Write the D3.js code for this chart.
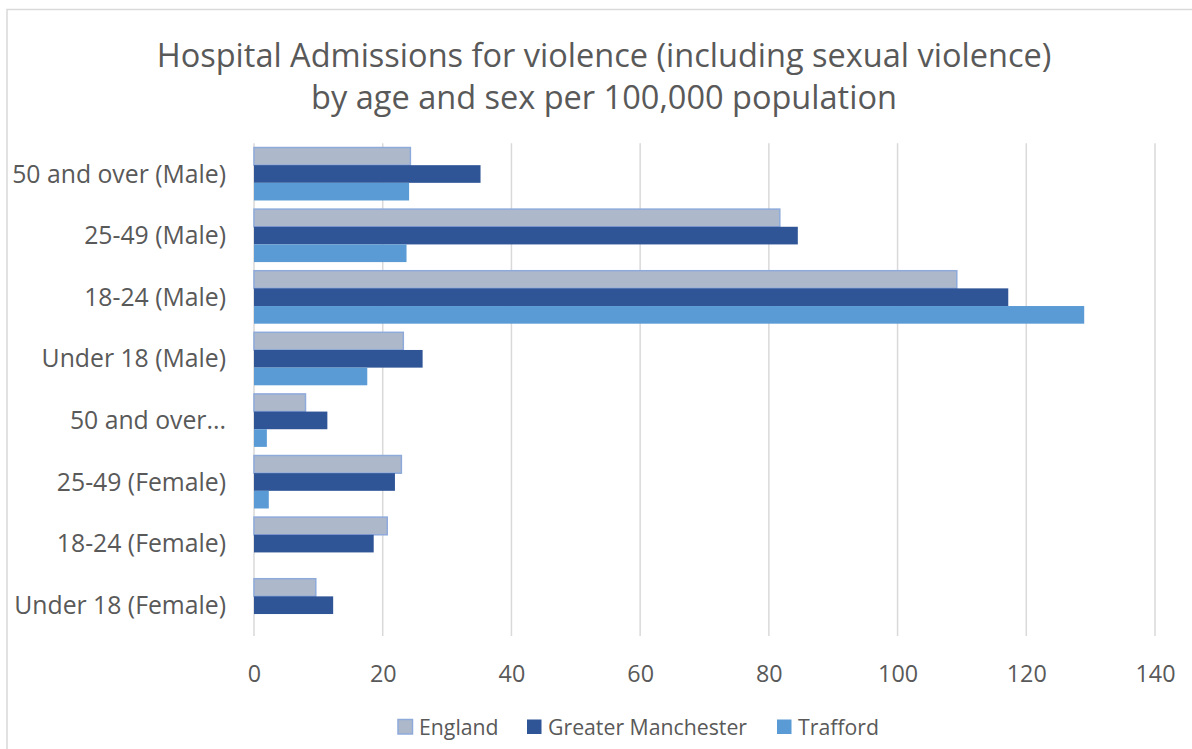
<!DOCTYPE html>
<html><head><meta charset="utf-8">
<script src="https://cdn.jsdelivr.net/npm/d3@7"></script>
<style>body{margin:0;background:#fff}svg{display:block}text{font-family:"Open Sans",sans-serif;fill:#595959}</style>
</head><body><svg id="c" width="1192" height="749"></svg>
<script>
const categories = ["50 and over (Male)","25-49 (Male)","18-24 (Male)","Under 18 (Male)","50 and over...","25-49 (Female)","18-24 (Female)","Under 18 (Female)"];
const seriesNames = ["England","Greater Manchester","Trafford"];
const england = [24.3, 81.7, 109.2, 23.2, 8.0, 22.9, 20.7, 9.6];
const greaterManchester = [35.2, 84.5, 117.2, 26.2, 11.4, 21.9, 18.6, 12.3];
const trafford = [24.1, 23.7, 129.0, 17.6, 2.0, 2.3, 0, 0];
const xTicks = [0,20,40,60,80,100,120,140];
const titleLines = ["Hospital Admissions for violence (including sexual violence)","by age and sex per 100,000 population"];

(function(){
const colors = ["#adb9ca","#2f5597","#5b9bd5"];
const values = [england, greaterManchester, trafford];
const svg = d3.select("#c");

function fit(sel, refNode, target, base){
  sel.style("font-size", base+"px");
  const w = refNode.getComputedTextLength();
  const fs = base*target/w;
  sel.style("font-size", fs.toFixed(2)+"px");
}

svg.append("rect").attr("x",7).attr("y",9.5).attr("width",1200).attr("height",760)
  .attr("fill","none").attr("stroke","#d9d9d9").attr("stroke-width",1.5);

const pl=254, pr=1155, pt=143.2, pb=636;
const x = d3.scaleLinear().domain([0,140]).range([pl,pr]);
const y = d3.scaleBand().domain(categories).range([pt,pb]).paddingInner(0.14).paddingOuter(0.07);
const ys = d3.scaleBand().domain(d3.range(3)).range([0,y.bandwidth()]);

svg.append("g").selectAll("line").data(xTicks).join("line")
  .attr("x1",d=>x(d)).attr("x2",d=>x(d)).attr("y1",pt).attr("y2",pb)
  .attr("stroke","#d9d9d9").attr("stroke-width",1.5);

values.forEach((vals,si)=>{
  svg.append("g").selectAll("rect").data(categories).join("rect")
    .attr("x",x(0))
    .attr("y",(c)=>y(c)+ys(si))
    .attr("width",(c,i)=>Math.max(0,x(vals[i])-x(0)))
    .attr("height",ys.bandwidth())
    .attr("fill",colors[si])
    .attr("stroke",si===0?"#8eaadb":"none")
    .attr("stroke-width",si===0?1.5:0);
});

const xAxis = d3.axisBottom(x).tickValues(xTicks).tickSize(0).tickPadding(0);
const gx = svg.append("g").attr("transform",`translate(0,${pb})`).call(xAxis);
gx.select(".domain").remove();
const xt = gx.selectAll("text").attr("dy",0).attr("y",46).style("font-family","'Open Sans', sans-serif").attr("fill","#595959");
fit(xt, xt.nodes()[7], 40, 20);

const yAxis = d3.axisLeft(y).tickSize(0).tickPadding(0);
const gy = svg.append("g").attr("transform",`translate(226,0)`).call(yAxis);
gy.select(".domain").remove();
const yt = gy.selectAll("text").attr("dy","0.35em").style("font-family","'Open Sans', sans-serif").attr("fill","#595959");
fit(yt, yt.nodes()[0], 214, 20);

const tt = svg.append("g").selectAll("text").data(titleLines).join("text")
  .attr("x",604).attr("y",(d,i)=>67+i*42).attr("text-anchor","middle").text(d=>d);
fit(tt, tt.nodes()[0], 895, 28);

const legX=[398,527,777];
const lg = svg.append("g").selectAll("g").data(seriesNames).join("g")
  .attr("transform",(d,i)=>`translate(${legX[i]},719.5)`);
lg.append("rect").attr("width",14.5).attr("height",14.5).attr("fill",(d,i)=>colors[i])
  .attr("stroke",(d,i)=>i===0?"#8eaadb":"none").attr("stroke-width",1.5);
const lt = lg.append("text").attr("x",21).attr("y",15.5).text(d=>d);
fit(lt, lt.nodes()[1], 199, 20);
})();
</script></body></html>
